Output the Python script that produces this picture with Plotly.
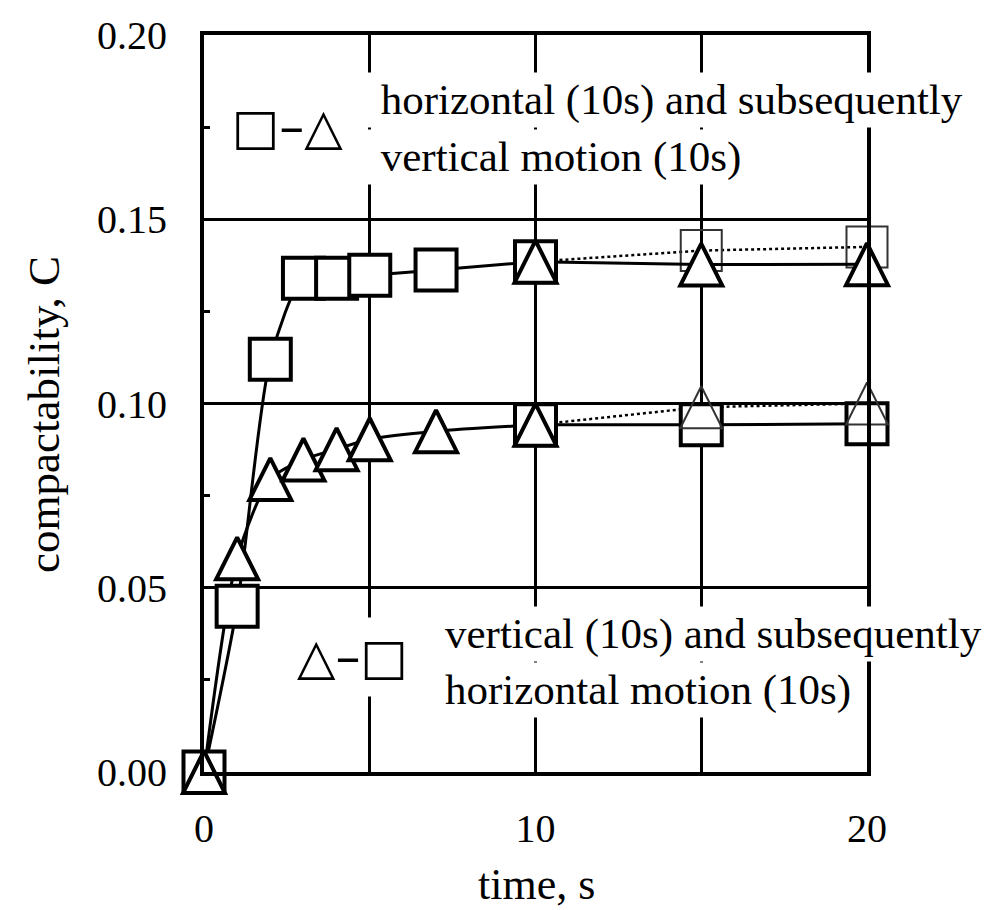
import plotly.graph_objects as go

# ---------------- data ----------------
# Experiment 1: horizontal motion (10 s) then vertical motion (10 s)
h_time = [0, 1, 2, 3, 4, 5, 7, 10]
h_comp = [0.0, 0.045, 0.112, 0.134, 0.134, 0.1348, 0.1362, 0.1385]
hv_time = [10, 15, 20]
hv_comp = [0.1385, 0.1377, 0.1378]
h_cont_time = [10, 15, 20]          # dotted: horizontal motion continued
h_cont_comp = [0.1385, 0.1415, 0.1425]

# Experiment 2: vertical motion (10 s) then horizontal motion (10 s)
v_time = [0, 1, 2, 3, 4, 5, 7, 10]
v_comp = [0.0, 0.058, 0.0795, 0.0848, 0.0876, 0.0903, 0.0925, 0.0942]
vh_time = [10, 15, 20]
vh_comp = [0.0942, 0.0942, 0.0945]
v_cont_time = [10, 15, 20]          # dotted: vertical motion continued
v_cont_comp = [0.0942, 0.0990, 0.1000]

x_ticks = [0, 5, 10, 15, 20]
x_ticktext = ["0", "", "10", "", "20"]
y_ticks = [0.0, 0.05, 0.10, 0.15, 0.20]
y_ticktext = ["0.00", "0.05", "0.10", "0.15", "0.20"]

x_title = "time, s"
y_title = "compactability, C"
label_top = ["horizontal (10s) and subsequently", "vertical motion (10s)"]
label_bottom = ["vertical (10s) and subsequently", "horizontal motion (10s)"]

# ---------------- layout geometry ----------------
W, H = 987, 910
ML, MR, MT, MB = 204, 120, 35, 138
plot_w = W - ML - MR
plot_h = H - MT - MB
Y_RANGE = [0.0, 0.20]
SQ_SIZE = 41
TRI_SIZE = 42
# arrow-up symbol hangs below its anchor; shift its axis so it is centred
tri_shift = (TRI_SIZE / 2) / plot_h * (Y_RANGE[1] - Y_RANGE[0])

FONT = "Liberation Serif, Times New Roman, serif"
BLACK = "#000000"

fig = go.Figure()

# dotted continuation lines
for xs, ys in [(h_cont_time, h_cont_comp), (v_cont_time, v_cont_comp)]:
    fig.add_trace(go.Scatter(x=xs, y=ys, mode="lines",
                             line=dict(color=BLACK, width=2.5, dash="dot"),
                             cliponaxis=False, hoverinfo="skip"))
# dotted square markers (open)
fig.add_trace(go.Scatter(x=h_cont_time[1:], y=h_cont_comp[1:], mode="markers",
                         marker=dict(symbol="square-open", size=SQ_SIZE, color="#333333",
                                     line=dict(width=2)),
                         cliponaxis=False, hoverinfo="skip"))

# solid lines
fig.add_trace(go.Scatter(x=h_time, y=h_comp, mode="lines",
                         line=dict(color=BLACK, width=3, shape="spline", smoothing=0.7),
                         cliponaxis=False, hoverinfo="skip"))
fig.add_trace(go.Scatter(x=hv_time, y=hv_comp, mode="lines",
                         line=dict(color=BLACK, width=3),
                         cliponaxis=False, hoverinfo="skip"))
fig.add_trace(go.Scatter(x=v_time, y=v_comp, mode="lines",
                         line=dict(color=BLACK, width=3, shape="spline", smoothing=0.7),
                         cliponaxis=False, hoverinfo="skip"))
fig.add_trace(go.Scatter(x=vh_time, y=vh_comp, mode="lines",
                         line=dict(color=BLACK, width=3),
                         cliponaxis=False, hoverinfo="skip"))

# square markers
sq_marker = dict(symbol="square", size=SQ_SIZE, color="white",
                 line=dict(color=BLACK, width=4))
fig.add_trace(go.Scatter(x=h_time, y=h_comp, mode="markers", marker=sq_marker,
                         cliponaxis=False, hoverinfo="skip"))
fig.add_trace(go.Scatter(x=vh_time, y=vh_comp, mode="markers", marker=sq_marker,
                         cliponaxis=False, hoverinfo="skip"))

# triangle markers (on shifted overlay axis)
tri_marker = dict(symbol="arrow-up", size=TRI_SIZE, color="white",
                  line=dict(color=BLACK, width=4))
fig.add_trace(go.Scatter(x=v_time, y=v_comp, mode="markers", marker=tri_marker,
                         yaxis="y2", cliponaxis=False, hoverinfo="skip"))
fig.add_trace(go.Scatter(x=hv_time, y=hv_comp, mode="markers", marker=tri_marker,
                         yaxis="y2", cliponaxis=False, hoverinfo="skip"))
fig.add_trace(go.Scatter(x=v_cont_time[1:], y=v_cont_comp[1:], mode="markers",
                         marker=dict(symbol="arrow-up-open", size=TRI_SIZE, color="#333333",
                                     line=dict(width=2)),
                         yaxis="y2", cliponaxis=False, hoverinfo="skip"))

axis_common = dict(showline=True, linecolor=BLACK, linewidth=4, mirror=True,
                   showgrid=True, gridcolor=BLACK, zeroline=False, automargin=False,
                   tickfont=dict(family=FONT, size=40, color=BLACK))

fig.update_layout(
    width=W, height=H,
    margin=dict(l=ML, r=MR, t=MT, b=MB, autoexpand=False),
    paper_bgcolor="white", plot_bgcolor="white",
    showlegend=False,
    xaxis=dict(range=[0, 20], tickvals=x_ticks, ticktext=x_ticktext,
               gridwidth=2.5, ticks="", ticklabelstandoff=18,
               **axis_common),
    yaxis=dict(range=Y_RANGE, tickvals=y_ticks, ticktext=y_ticktext,
               gridwidth=3, ticks="", ticklabelstandoff=25,
               minor=dict(ticks="inside", tickvals=[0.025, 0.075, 0.125, 0.175],
                          ticklen=6, tickwidth=3, tickcolor=BLACK, showgrid=False),
               **axis_common),
    yaxis2=dict(range=[Y_RANGE[0] - tri_shift, Y_RANGE[1] - tri_shift],
                overlaying="y", visible=False, showgrid=False),
)

def px_x(px):
    return (px - ML) / plot_w

def px_y(py):
    return 1 - (py - MT) / plot_h

def text_ann(text, x, y, size=43, font=FONT, xanchor="left", bg="white", pad=3):
    return dict(text=text, xref="paper", yref="paper", x=px_x(x), y=px_y(y),
                xanchor=xanchor, yanchor="middle", showarrow=False,
                font=dict(family=font, size=size, color=BLACK),
                bgcolor=bg, borderpad=pad, align="left")

NB = "\u00a0"
anns = [
    text_ann("□–△", 228, 127, size=50, font="DejaVu Sans"),
    text_ann(NB + label_top[0], 366, 100),
    text_ann(NB + label_top[1], 366, 157),
    text_ann("△–□", 286, 657, size=50, font="DejaVu Sans", pad=10),
    text_ann(label_bottom[0], 441, 634),
    text_ann(label_bottom[1], 441, 690),
    # axis titles
    dict(text=x_title, xref="paper", yref="paper", x=px_x(536), y=px_y(884),
         xanchor="center", yanchor="middle", showarrow=False,
         font=dict(family=FONT, size=44, color=BLACK)),
    dict(text=y_title, xref="paper", yref="paper", x=px_x(44), y=px_y(415),
         xanchor="center", yanchor="middle", showarrow=False, textangle=-90,
         font=dict(family=FONT, size=45, color=BLACK)),
]
fig.update_layout(annotations=anns)

fig.write_html("out.html",
               config={"displayModeBar": False},
               post_script="document.body.style.margin='0';document.body.style.overflow='hidden';")
